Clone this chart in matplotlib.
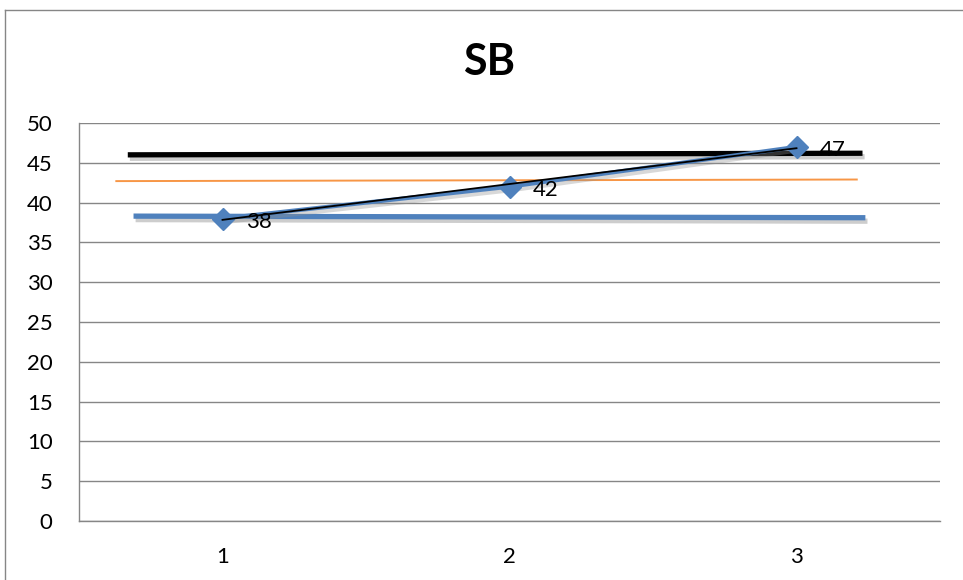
import matplotlib
matplotlib.use("Agg")
import matplotlib.pyplot as plt
import matplotlib.patheffects as pe
import numpy as np

categories = [1, 2, 3]
values = [38, 42, 47]
black_level = [46.0, 46.2]
orange_level = [42.7, 42.9]
blue_level = [38.3, 38.1]
yticks = [0, 5, 10, 15, 20, 25, 30, 35, 40, 45, 50]

plt.rcParams['font.family'] = ['Lato', 'DejaVu Sans']

fig = plt.figure(figsize=(9.63, 5.8), dpi=100)
ax = fig.add_axes([79/963, 59/580, (940-79)/963, (521-123)/580])

blue = '#4F81BD'
orange = '#F79646'
shadow = [pe.SimpleLineShadow(offset=(1.5, -2.5), shadow_color='#909090', alpha=0.45), pe.Normal()]

# horizontal reference lines
ax.plot([0.67, 3.23], black_level, color='black', lw=3.8, solid_capstyle='butt', path_effects=shadow, zorder=3)
ax.plot([0.63, 3.21], orange_level, color=orange, lw=1.4, zorder=3)
ax.plot([0.69, 3.24], blue_level, color=blue, lw=3.8, solid_capstyle='butt', path_effects=shadow, zorder=3)

# series
ax.plot(categories, values, color=blue, lw=3.0, zorder=4,
        path_effects=[pe.SimpleLineShadow(offset=(1.5, -2.5), shadow_color='#909090', alpha=0.35), pe.Normal()])
ax.plot(categories, values, ls='none', marker='D', ms=11, mfc=blue, mec=blue, zorder=4)

# linear trendline
x = np.array(categories, dtype=float)
coef = np.polyfit(x, values, 1)
ax.plot(x, np.polyval(coef, x), color='black', lw=1.3, zorder=5)

for c, v in zip(categories, values):
    ax.annotate(str(v), (c, v), xytext=(17, -2.5), textcoords='offset points',
                ha='left', va='center', fontsize=16, color='black', zorder=6)

ax.set_xlim(0.5, 3.5)
ax.set_ylim(0, 50)
ax.set_yticks(yticks)
ax.set_xticks(categories)
ax.set_xticklabels([str(c) for c in categories])
ax.tick_params(axis='both', length=0, labelsize=16)
ax.tick_params(axis='x', pad=19)
ax.tick_params(axis='y', pad=19)
ax.grid(axis='y', color='#868686', lw=1)
ax.set_axisbelow(True)
for s in ['top', 'right']:
    ax.spines[s].set_visible(False)
for s in ['left', 'bottom']:
    ax.spines[s].set_color('#868686')
    ax.spines[s].set_linewidth(1)

fig.text(489/963, 1 - 62/580, 'SB', ha='center', va='center', fontsize=31, fontweight='bold')

# outer chart border
fig.add_artist(plt.Line2D([5/963, 5/963], [0, 1 - 10/580], color='#868686', lw=1, transform=fig.transFigure))
fig.add_artist(plt.Line2D([5/963, 1], [1 - 10/580, 1 - 10/580], color='#868686', lw=1, transform=fig.transFigure))

fig.savefig('out.png', dpi=100)
